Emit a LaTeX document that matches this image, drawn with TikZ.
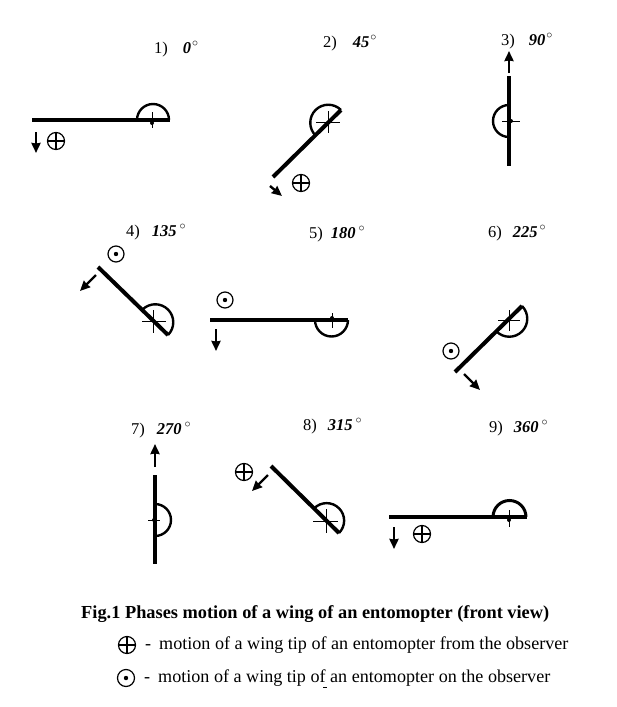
\documentclass[tikz,border=0pt]{standalone}
\usepackage{fontspec}
\setmainfont{Liberation Serif}
\usetikzlibrary{arrows.meta}
\tikzset{
  wingbar/.style={line width=4pt,line join=round},
  hingearc/.style={line width=2.4pt},
  crosshair/.style={line width=.7pt},
  flowarrow/.style={line width=2.4pt,-{Stealth[length=10pt,width=9pt,inset=.5pt]}},
  fromsign/.style={circle,draw,line width=1.2pt,minimum size=17pt,inner sep=0pt,path picture={
    \draw[line width=1.2pt] (path picture bounding box.north) -- (path picture bounding box.south);
    \draw[line width=1.2pt] (path picture bounding box.west) -- (path picture bounding box.east);}},
  onsign/.style={circle,draw,line width=1.2pt,minimum size=16pt,inner sep=0pt,path picture={
    \fill (path picture bounding box.center) circle (2.2pt);}},
  phaselabel/.style={anchor=base west,inner sep=0pt,font=\fontsize{16.5}{18}\selectfont},
  caption/.style={anchor=base west,inner sep=0pt,font=\fontsize{18.35}{20}\selectfont},
  legendtext/.style={anchor=base west,inner sep=0pt,font=\fontsize{18.1}{20}\selectfont}
}
\begin{document}
\begin{tikzpicture}[x=1pt,y=-1pt]
\path[use as bounding box] (0,0) rectangle (617,707);
% phase labels
\node[phaselabel] (lab1) at (154,53) {1)\hspace{15pt}\textbf{\textit{0}}\hspace{1pt}$^\circ$};
\node[phaselabel] (lab2) at (323,47) {2)\hspace{16pt}\textbf{\textit{45}}\hspace{1pt}$^\circ$};
\node[phaselabel] (lab3) at (501,45) {3)\hspace{14pt}\textbf{\textit{90}}\hspace{1pt}$^\circ$};
\node[phaselabel] (lab4) at (126,236) {4)\hspace{12pt}\textbf{\textit{135}}\hspace{3pt}$^\circ$};
\node[phaselabel] (lab5) at (309,238) {5)\hspace{8pt}\textbf{\textit{180}}\hspace{3pt}$^\circ$};
\node[phaselabel] (lab6) at (488,237) {6)\hspace{11pt}\textbf{\textit{225}}\hspace{2pt}$^\circ$};
\node[phaselabel] (lab7) at (131,434) {7)\hspace{12pt}\textbf{\textit{270}}\hspace{3pt}$^\circ$};
\node[phaselabel] (lab8) at (303,430) {8)\hspace{11pt}\textbf{\textit{315}}\hspace{3pt}$^\circ$};
\node[phaselabel] (lab9) at (489,432) {9)\hspace{11pt}\textbf{\textit{360}}\hspace{3pt}$^\circ$};
% wing 1
\draw[wingbar,line width=4.6pt] (32,120) -- (170,120);
\draw[hingearc] (169,120) arc[start angle=0,end angle=-180,radius=16];
\draw[crosshair] (152,112) -- (152,128);
\fill (152,123) circle (2pt);
\coordinate (a1) at (36,132);
\coordinate (b1) at (36,153);
\draw[flowarrow] (a1) -- (b1);
\node[fromsign] (s1) at (56,141) {};
% wing 2
\draw[wingbar] (273,177) -- (341,110);
\draw[hingearc] (341,110) arc[start angle=-45,end angle=-225,radius=18];
\draw[crosshair] (316,122) -- (340,122) (328,111) -- (328,133);
\coordinate (a2) at (270,186);
\coordinate (b2) at (282,196);
\draw[flowarrow] (a2) -- (b2);
\node[fromsign] (s2) at (301,183) {};
% wing 3
\draw[wingbar,line width=3.6pt] (509,76) -- (509,166);
\draw[hingearc] (509,105) arc[start angle=-90,end angle=-270,radius=16];
\draw[crosshair] (502,121) -- (520,121);
\fill (511,121) circle (2pt);
\coordinate (a3) at (509,73);
\coordinate (b3) at (509,51);
\draw[flowarrow] (a3) -- (b3);
% wing 4
\draw[wingbar] (98,267) -- (168,335);
\draw[hingearc] (168,335) arc[start angle=45,end angle=-135,radius=18];
\draw[crosshair] (142,321) -- (166,321) (153,310) -- (153,333);
\coordinate (a4) at (96,275);
\coordinate (b4) at (80,291);
\draw[flowarrow] (a4) -- (b4);
\node[onsign] (s4) at (116,254) {};
% wing 5
\draw[wingbar,line width=4.6pt] (210,320) -- (348,320);
\draw[hingearc] (348,320) arc[start angle=0,end angle=180,radius=16.5];
\draw[crosshair] (332,313) -- (332,328);
\fill (332,318) circle (2pt);
\coordinate (a5) at (216,329);
\coordinate (b5) at (216,351);
\draw[flowarrow] (a5) -- (b5);
\node[onsign] (s5) at (225,300) {};
% wing 6
\draw[wingbar] (455,372) -- (522,306);
\draw[hingearc] (522,306) arc[start angle=-45,end angle=135,radius=18];
\draw[crosshair] (498,320) -- (520,320) (509,310) -- (509,331);
\coordinate (a6) at (464,374);
\coordinate (b6) at (480,390);
\draw[flowarrow] (a6) -- (b6);
\node[onsign] (s6) at (451,351) {};
% wing 7
\draw[wingbar,line width=3.6pt] (155,475) -- (155,564);
\draw[hingearc] (155,504) arc[start angle=-90,end angle=90,radius=16];
\draw[crosshair] (148,520) -- (160,520);
\fill (154,520) circle (2pt);
\coordinate (a7) at (155,467);
\coordinate (b7) at (155,444);
\draw[flowarrow] (a7) -- (b7);
% wing 8
\draw[wingbar] (271,466) -- (339,533);
\draw[hingearc] (339,533) arc[start angle=45,end angle=-135,radius=17.5];
\draw[crosshair] (313,521) -- (338,521) (326,509) -- (326,533);
\coordinate (a8) at (268,475);
\coordinate (b8) at (252,491);
\draw[flowarrow] (a8) -- (b8);
\node[fromsign] (s8) at (244,472) {};
% wing 9
\draw[wingbar,line width=4.6pt] (389,517) -- (527,517);
\draw[hingearc,line width=3pt] (526,517) arc[start angle=0,end angle=-180,radius=16.5];
\draw[crosshair] (509,510) -- (509,527);
\fill (509,520) circle (2pt);
\coordinate (a9) at (394,527);
\coordinate (b9) at (394,549);
\draw[flowarrow] (a9) -- (b9);
\node[fromsign] (s9) at (422,534) {};
% caption and legend
\node[caption] (cap) at (81,618) {\textbf{Fig.1 Phases motion of a wing of an entomopter (front view)}};
\node[fromsign] (s10) at (127,645) {};
\node[legendtext] (leg1) at (145,649) {-\hspace{8pt}motion of a wing tip of an entomopter from the observer};
\node[onsign,minimum size=17pt] (s11) at (126,678) {};
\node[legendtext] (leg2) at (144,682) {-\hspace{8pt}motion of a wing tip of an entomopter on the observer};
\draw[line width=.7pt] (323,687) -- (327,687);
\end{tikzpicture}
\end{document}
